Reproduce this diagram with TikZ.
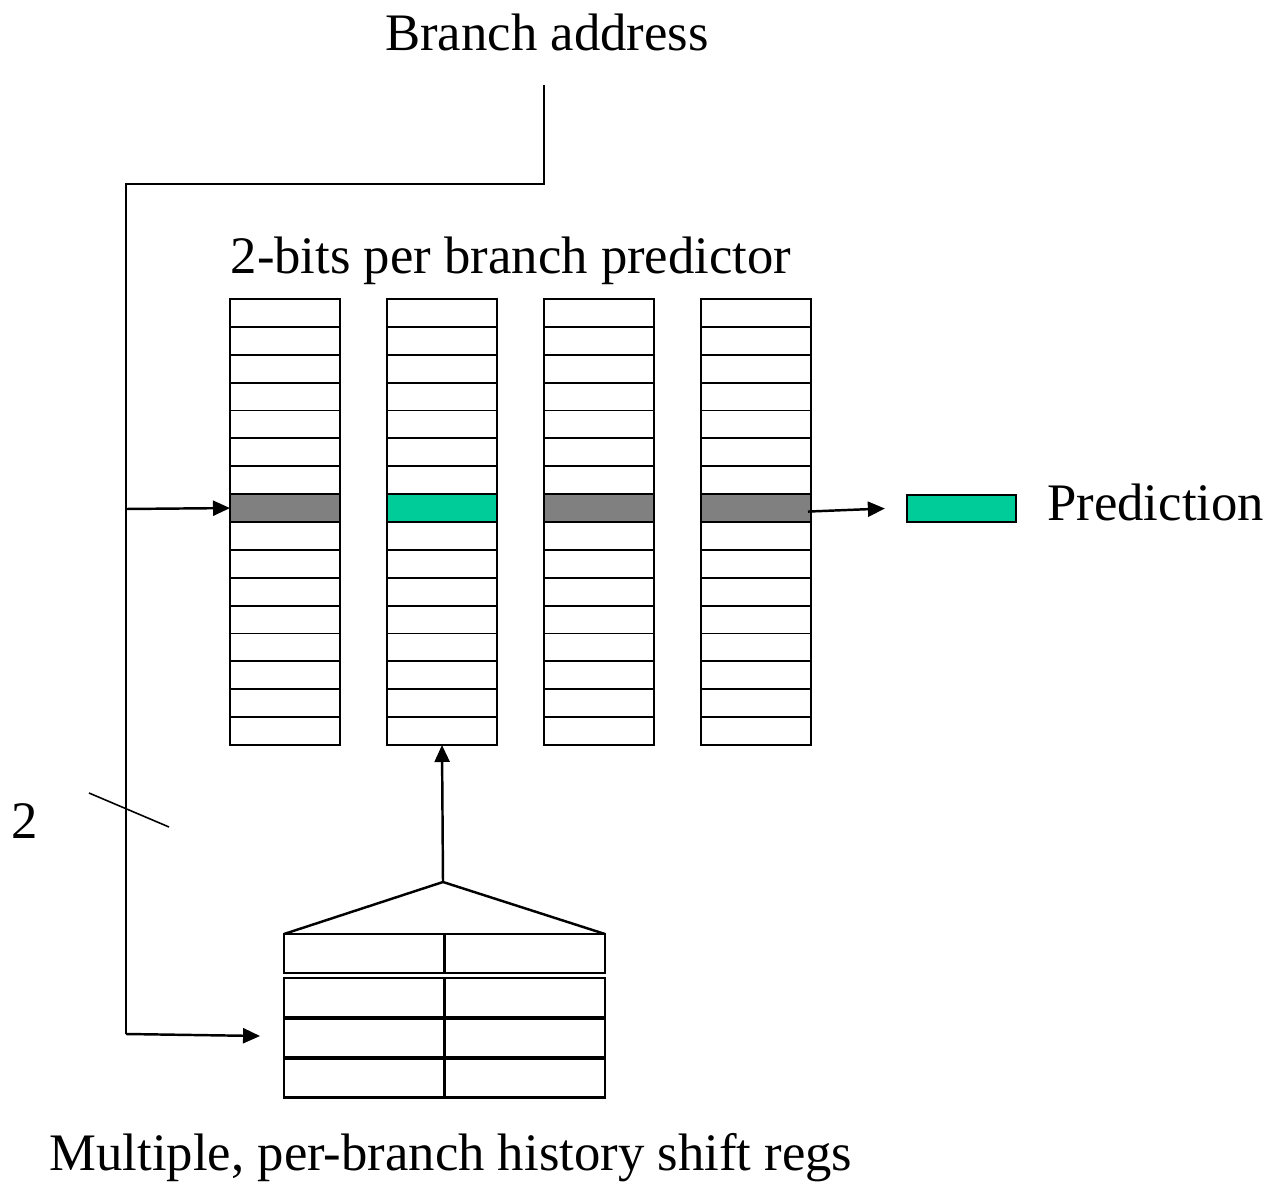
\documentclass[tikz,border=0pt]{standalone}
\usepackage{fontspec}
\setmainfont{Liberation Serif}
\usetikzlibrary{arrows.meta}
\definecolor{predgreen}{RGB}{0,204,153}
\definecolor{slotgray}{RGB}{128,128,128}
\begin{document}
\begin{tikzpicture}[x=0.02cm,y=-0.02cm,
  lbl/.style={font=\fontsize{30}{36}\selectfont, inner sep=0pt},
  cell/.style={draw, line width=1.1pt, minimum width=2.2cm, minimum height=0.5575cm,
    inner sep=0pt, outer sep=0pt, fill=white},
  regrow/.style={draw, line width=1.3pt, minimum width=6.42cm, minimum height=0.78cm,
    inner sep=0pt, outer sep=0pt},
  wire/.style={line width=1.4pt},
  arr/.style={wire, -{Triangle[length=0.34cm,width=0.3cm]}}]
\useasboundingbox (0,0) rectangle (1282,1182);

% four predictor tables, 16 counters each
\foreach \c in {0,1,2,3}{
  \foreach \r in {0,...,15}{
    \node[cell] (c\c r\r) at ({285+157*\c},{299+27.875*(\r+0.5)}) {};
  }
}
% selected counter row
\foreach \c in {0,2,3}{ \fill[slotgray] (c\c r7.south west) rectangle (c\c r7.north east);
  \draw[line width=1.3pt] (c\c r7.south west) rectangle (c\c r7.north east); }
\fill[predgreen] (c1r7.south west) rectangle (c1r7.north east);
\draw[line width=1.3pt] (c1r7.south west) rectangle (c1r7.north east);

% prediction output
\node[draw, line width=1.3pt, fill=predgreen, minimum width=2.18cm, minimum height=0.54cm,
  inner sep=0pt] (pred) at (961.5,508.5) {};
\node[lbl, anchor=west] (predtxt) at (1047,502) {Prediction};
\draw[arr] ([xshift=-0.06cm,yshift=-0.07cm]c3r7.east) -- ([xshift=-0.42cm]pred.west);

% per-branch history shift registers
\node[regrow] (sr1) at (444.5,953.5) {};
\node[regrow] (sr2) at (444.5,997.5) {};
\node[regrow] (sr3) at (444.5,1038) {};
\node[regrow] (sr4) at (444.5,1078) {};
\foreach \s in {sr1,sr2,sr3,sr4}{ \draw[line width=1.3pt] (\s.north) -- (\s.south); }

\coordinate (apex) at (443,882);
\draw[wire] (sr1.north west) -- (apex) -- (sr1.north east);
\draw[arr] (apex) -- (c1r15.south);

% branch address routing
\node[lbl] (batxt) at (547,32) {Branch address};
\coordinate (ba) at (544,85);
\coordinate (bend) at (126,184);
\coordinate (tap) at (126,509);
\coordinate (foot) at (126,1034);
\draw[wire] (ba) |- (bend) -- (foot);
\draw[arr] (tap) -- (c0r7.west);
\draw[arr] (foot) -- ([xshift=-0.48cm,yshift=0.04cm]sr3.west);

% bus width marker
\coordinate (sl1) at (89,793);
\coordinate (sl2) at (169,827);
\draw[line width=0.9pt] (sl1) -- (sl2);
\node[lbl] (two) at (25,821) {2};

\node[lbl] (ptxt) at (511,261) {2-bits per branch predictor};
\node[lbl] (mtxt) at (451,1158) {Multiple, per-branch history shift regs};
\end{tikzpicture}
\end{document}
